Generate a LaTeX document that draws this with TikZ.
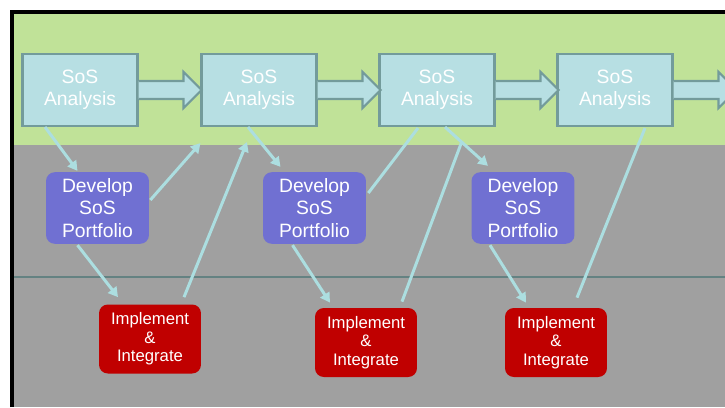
\documentclass[tikz,border=0pt]{standalone}
\usepackage{fontspec}
\setmainfont{Liberation Sans}
\usepackage{tikz}
\usetikzlibrary{arrows.meta, calc, positioning}

\definecolor{bandgreen}{RGB}{192,226,152}
\definecolor{bandgray}{RGB}{160,160,160}
\definecolor{splitline}{RGB}{100,130,130}
\definecolor{anfill}{RGB}{183,223,227}
\definecolor{anedge}{RGB}{115,155,155}
\definecolor{devfill}{RGB}{112,112,210}
\definecolor{impfill}{RGB}{192,0,0}
\definecolor{flow}{RGB}{172,222,224}

\tikzset{
  anbox/.style={draw=anedge, line width=1.2pt, fill=anfill, text=white,
    minimum width=2.3cm, minimum height=1.44cm, align=center,
    font=\fontsize{11}{12.3}\selectfont},
  devbox/.style={fill=devfill, rounded corners=5pt, text=white,
    minimum width=2.06cm, minimum height=1.4cm, align=center,
    font=\fontsize{11}{13}\selectfont},
  impbox/.style={fill=impfill, rounded corners=5pt, text=white,
    minimum width=2.04cm, minimum height=1.38cm, align=center,
    font=\fontsize{9.5}{10.5}\selectfont},
  flowline/.style={flow, line width=1.7pt},
  flowarrow/.style={flowline, -{Triangle[length=5.5pt,width=6pt]}},
  blockarrow/.style={fill=anfill, draw=anedge, line width=1.2pt, line join=miter}
}

\begin{document}
\begin{tikzpicture}[x=0.02cm, y=-0.02cm]
        \useasboundingbox (0,0) rectangle (725,407);

        % Bands
        \fill[bandgreen] (14,14) rectangle (725,145);
        \fill[bandgray] (14,145) rectangle (725,407);
        \draw[splitline, line width=1.2pt] (14,277) -- (725,277);

        % Frame
        \draw[black, line width=1.8pt] (12,407) -- (12,12) -- (725,12);

        % Analysis boxes
        \node[anbox] (an1) at (80,90) {SoS\\Analysis};
        \node[anbox] (an2) at (259,90) {SoS\\Analysis};
        \node[anbox] (an3) at (437,90) {SoS\\Analysis};
        \node[anbox] (an4) at (615,90) {SoS\\Analysis};

        % Block arrows out of each analysis box
        \foreach \b in {an1, an2, an3, an4} {
          \path[blockarrow] ($(\b.east)+(0,-9)$) -- ++(45,0) -- ++(0,-9)
            -- ++(18,18) -- ++(-18,18) -- ++(0,-9) -- ++(-45,0);
        }

        % Develop boxes
        \node[devbox] (dev1) at (97.5,208) {Develop\\SoS\\Portfolio};
        \node[devbox] (dev2) at (314.5,208) {Develop\\SoS\\Portfolio};
        \node[devbox] (dev3) at (523,208) {Develop\\SoS\\Portfolio};

        % Implement boxes
        \node[impbox] (imp1) at (150,339) {Implement\\\&\\Integrate};
        \node[impbox] (imp2) at (366,342.5) {Implement\\\&\\Integrate};
        \node[impbox] (imp3) at (556,342.5) {Implement\\\&\\Integrate};

        % Analysis -> Develop
        \draw[flowarrow] ($(an1.south)+(-35,0)$) -- ($(dev1.north)+(-20,-1)$);
        \draw[flowarrow] ($(an2.south)+(-11,0)$) -- ($(dev2.north)+(-34,-5)$);
        \draw[flowarrow] ($(an3.south)+(8,0)$) -- ($(dev3.north)+(-35,-6)$);

        % Develop -> Implement
        \draw[flowarrow] ($(dev1.south)+(-20,1)$) -- ($(imp1.north)+(-32,-7)$);
        \draw[flowarrow] ($(dev2.south)+(-22,1)$) -- ($(imp2.north)+(-36,-5)$);
        \draw[flowarrow] ($(dev3.south)+(-33,1)$) -- ($(imp3.north)+(-30,-5)$);

        % Feedback up to the next analysis
        \draw[flowarrow] ($(dev1.east)+(1,-8)$) -- ($(an2.south west)+(0,16)$);
        \draw[flowarrow] ($(imp1.north)+(34,-7)$) -- ($(an2.south)+(-12,15)$);
        \draw[flowline] ($(dev2.east)+(2,-15)$) -- ($(an3.south)+(-19,1)$);
        \draw[flowline] ($(imp2.north)+(36,-6)$) -- ($(an3.south)+(25,14)$);
        \draw[flowline] ($(imp3.north)+(21,-10)$) -- ($(an4.south)+(30,1)$);

    \end{tikzpicture}
\end{document}
